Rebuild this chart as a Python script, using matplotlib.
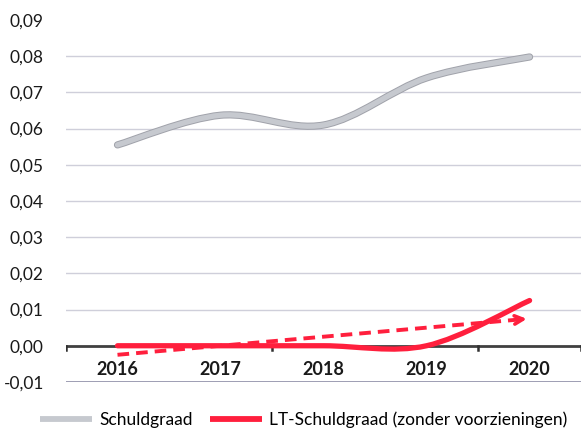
import numpy as np
import matplotlib.pyplot as plt
from matplotlib.path import Path
from matplotlib.patches import PathPatch
from matplotlib.lines import Line2D
from matplotlib.ticker import FuncFormatter

years = ["2016", "2017", "2018", "2019", "2020"]
schuldgraad = [0.0555, 0.0637, 0.0610, 0.0740, 0.0798]
lt_schuldgraad = [0.0, 0.0, 0.0, 0.0, 0.0125]

GREY = "#c6c9cf"
GREY_EDGE = "#a0a2aa"
RED = "#ff1f3d"

plt.rcParams["font.family"] = ["Lato", "DejaVu Sans"]


def smooth_path(xs, ys):
    # Catmull-Rom style smoothing drawn as cubic Bezier segments
    xs = np.asarray(xs, float)
    ys = np.asarray(ys, float)
    pts = np.column_stack([xs, ys])
    n = len(pts)
    verts = [pts[0]]
    codes = [Path.MOVETO]
    for i in range(n - 1):
        p0 = pts[max(i - 1, 0)]
        p1 = pts[i]
        p2 = pts[i + 1]
        p3 = pts[min(i + 2, n - 1)]
        c1 = p1 + (p2 - p0) / 6.0
        c2 = p2 - (p3 - p1) / 6.0
        verts += [c1, c2, p2]
        codes += [Path.CURVE4] * 3
    return Path(verts, codes)


fig = plt.figure(figsize=(5.84, 4.36), dpi=100)
ax = fig.add_axes([0.113, 0.124, 0.882, 0.830])
x = np.arange(len(years))

ax.set_xlim(-0.5, len(years) - 0.5)
ax.set_ylim(-0.01, 0.09)

# horizontal gridlines
for v in np.arange(-0.01, 0.085, 0.01):
    if abs(v) < 1e-9:
        continue
    ax.axhline(v, color="#cfcfda", lw=1.0, zorder=1)
ax.axhline(-0.01, color="#9090a8", lw=1.2, zorder=1)

# category axis at zero
ax.axhline(0, color="#404040", lw=2.0, zorder=2)
for bx in [-0.5, 1.5, 3.5, 4.5]:
    ax.plot([bx, bx], [0, -0.0012], color="#303030", lw=1.8, zorder=2)

# Schuldgraad: grey line with darker outline
p = smooth_path(x, schuldgraad)
ax.add_patch(PathPatch(p, fill=False, edgecolor=GREY_EDGE, lw=5.2, capstyle="round", zorder=3))
ax.add_patch(PathPatch(p, fill=False, edgecolor=GREY, lw=3.8, capstyle="round", zorder=3))

# LT-Schuldgraad
ax.add_patch(PathPatch(smooth_path(x, lt_schuldgraad), fill=False, edgecolor=RED,
                       lw=3.8, capstyle="round", zorder=4))

# linear trend of LT-Schuldgraad
slope, icpt = np.polyfit(x, lt_schuldgraad, 1)
t0 = icpt
t1 = icpt + slope * x[-1]
ax.plot([x[0], x[-1] - 0.08], [t0, t1 - slope * 0.08], color=RED, lw=2.8,
        linestyle=(0, (3, 1.8)), zorder=5)
ax.annotate("", xy=(x[-1], t1), xytext=(x[-1] - 0.12, t1 - slope * 0.12),
            arrowprops=dict(arrowstyle="->", color=RED, lw=2.6,
                            mutation_scale=15), zorder=5)

for s in ax.spines.values():
    s.set_visible(False)

ax.set_yticks(np.arange(-0.01, 0.0901, 0.01))
ax.yaxis.set_major_formatter(FuncFormatter(lambda v, _: f"{v:.2f}".replace(".", ",")))
ax.tick_params(axis="y", length=0, pad=16, labelsize=12.5, labelcolor="#1a1a1a")
ax.set_xticks([])
for xi, lab in zip(x, years):
    ax.text(xi, -0.0067, lab, ha="center", va="center", fontsize=13,
            fontweight="bold", color="#1a1a1a")

handles = [
    Line2D([], [], color=GREY, lw=4.2, solid_capstyle="butt"),
    Line2D([], [], color=RED, lw=4.2, solid_capstyle="butt"),
]
fig.legend(handles, ["Schuldgraad", "LT-Schuldgraad (zonder voorzieningen)"],
           loc="center", bbox_to_anchor=(0.52, 0.037), ncol=2, frameon=False,
           fontsize=12.5, handlelength=3.0, handletextpad=0.4, columnspacing=1.0)

fig.savefig("out.png", dpi=100)
